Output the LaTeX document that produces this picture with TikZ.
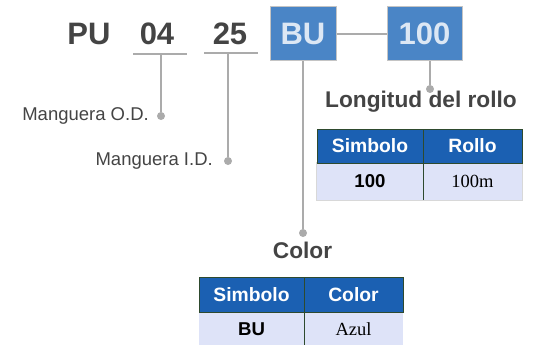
\documentclass[tikz,border=0pt]{standalone}
\usepackage{fontspec}
\setmainfont{Liberation Sans}
\newfontfamily\serifface{Liberation Serif}
\definecolor{txt}{HTML}{444444}
\definecolor{ln}{HTML}{ABABAB}
\definecolor{boxblue}{HTML}{4A85C6}
\definecolor{boxtxt}{HTML}{DCE7F4}
\definecolor{hdr}{HTML}{1B60B2}
\definecolor{hdrline}{HTML}{2E4A2E}
\definecolor{rowfill}{HTML}{DEE3F8}
\definecolor{rowline}{HTML}{D8D8D8}
\tikzset{
  code/.style={text=txt,font=\bfseries\fontsize{31}{31}\selectfont,inner sep=0pt},
  codebox/.style={draw=ln!70,line width=1pt,fill=boxblue,text=boxtxt,font=\bfseries\fontsize{31}{31}\selectfont,inner sep=0pt,minimum height=54pt},
  conn/.style={draw=ln,line width=1.3pt},
  dot/.style={circle,fill=ln,inner sep=0pt,minimum size=8pt},
  lbl/.style={text=txt,font=\fontsize{18.5}{18.5}\selectfont,inner sep=0pt},
  title/.style={text=txt,font=\bfseries\fontsize{22.7}{22.7}\selectfont,inner sep=0pt},
  hcell/.style={draw=hdrline,line width=1pt,fill=hdr,text=white,font=\bfseries\fontsize{19.3}{19.3}\selectfont,inner sep=0pt},
  rcell/.style={fill=rowfill,text=black,inner sep=0pt},
}
\begin{document}
\begin{tikzpicture}[x=1pt,y=-1pt]
\useasboundingbox (0,0) rectangle (535,345);
% code letters
\node[code] (pu) at (89,34) {PU};
\node[code] (c04) at (157,34) {04};
\node[code] (c25) at (230,34) {25};
\node[codebox,minimum width=66pt] (bu) at (303,34) {BU};
\node[codebox,minimum width=75pt] (c100) at (424.5,34) {100};
% underlines
\coordinate (u1a) at (133,54);
\coordinate (u1b) at (187,54);
\coordinate (u1m) at (161,54);
\coordinate (u2a) at (204,53);
\coordinate (u2b) at (258,53);
\coordinate (u2m) at (228,53);
\draw[conn] (u1a) -- (u1b);
\draw[conn] (u2a) -- (u2b);
% dots
\node[dot] (d1) at (161,116) {};
\node[dot] (d2) at (228,161) {};
\node[dot] (d3) at (303,233) {};
\node[dot] (d4) at (430,89) {};
\draw[conn] (u1m) -- (d1);
\draw[conn] (u2m) -- (d2);
\draw[conn] (bu.south) -- (d3);
\draw[conn] (c100.south -| d4) -- (d4);
\draw[conn] (bu.east) -- (c100.west);
% labels
\node[lbl,anchor=east] (od) at (149,116) {Manguera O.D.};
\node[lbl,anchor=east] (id) at (213,161) {Manguera I.D.};
\node[title] (lr) at (421,102) {Longitud del rollo};
\node[title] (col) at (302.5,250) {Color};
% table 1
\node[rcell,minimum width=106pt,minimum height=37pt,font=\bfseries\fontsize{18.6}{18.6}\selectfont] (t1r1) at (370,181.5) {100};
\node[rcell,minimum width=99pt,minimum height=37pt,font=\serifface\fontsize{18.5}{18.5}\selectfont] (t1r2) at (472.5,181.5) {100m};
\draw[rowline,line width=0.8pt] (t1r1.north west) rectangle (t1r2.south east);
\draw[hdrline,line width=1pt] (t1r1.north east) -- (t1r1.south east);
\node[hcell,minimum width=106pt,minimum height=34pt] (t1h1) at (370,146) {Simbolo};
\node[hcell,minimum width=99pt,minimum height=34pt] (t1h2) at (472.5,146) {Rollo};
% table 2
\node[rcell,minimum width=105pt,minimum height=34pt,font=\bfseries\fontsize{18.6}{18.6}\selectfont] (t2r1) at (251.5,329) {BU};
\node[rcell,minimum width=99pt,minimum height=34pt,font=\serifface\fontsize{18.5}{18.5}\selectfont] (t2r2) at (353.5,329) {Azul};
\draw[hdrline,line width=1pt] (t2r1.north east) -- (t2r1.south east);
\node[hcell,minimum width=105pt,minimum height=35pt] (t2h1) at (251.5,294.5) {Simbolo};
\node[hcell,minimum width=99pt,minimum height=35pt] (t2h2) at (353.5,294.5) {Color};
\end{tikzpicture}
\end{document}
